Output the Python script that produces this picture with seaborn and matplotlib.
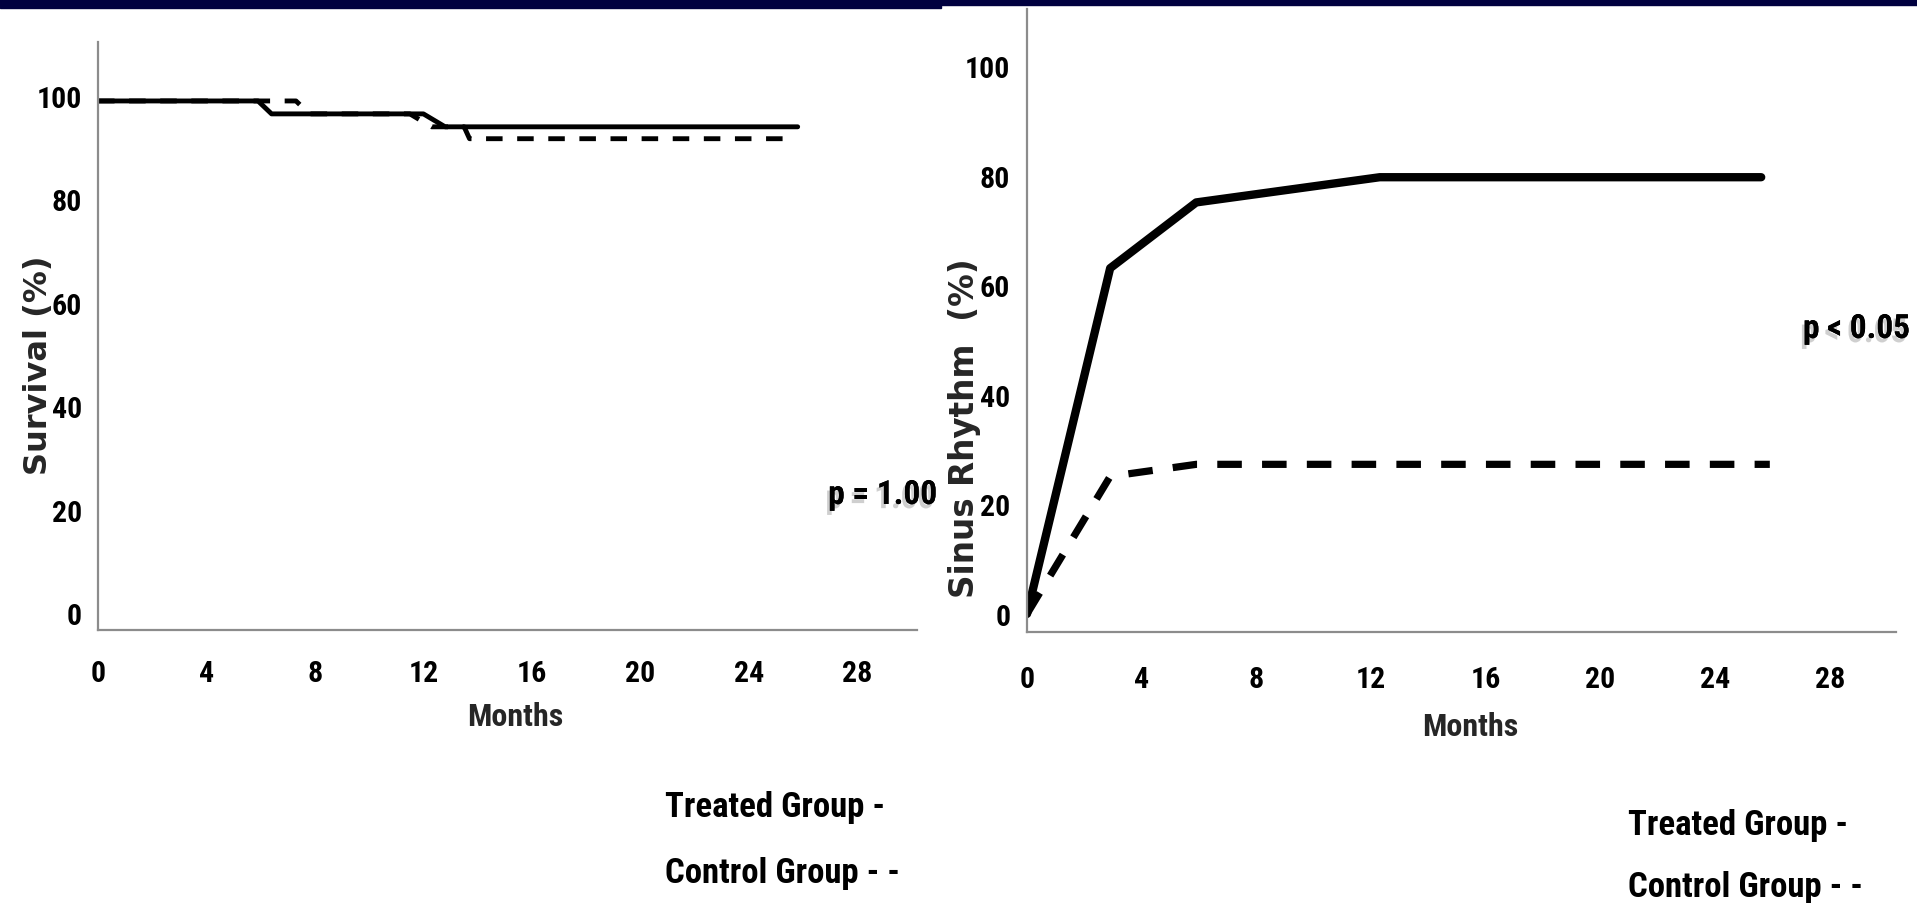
import matplotlib
matplotlib.use("Agg")
import matplotlib.pyplot as plt
import matplotlib.patheffects as pe
from matplotlib.patches import Rectangle
import seaborn as sns

# ── Data ───────────────────────────────────────────────────────
surv_months_treated = [0, 5.9, 6.4, 12.0, 12.8, 25.8]
surv_treated = [99, 99, 96.5, 96.5, 94, 94]
surv_months_control = [0, 7.3, 7.8, 11.5, 12.3, 13.5, 13.7, 25.3]
surv_control = [99, 99, 96.5, 96.5, 94, 94, 91.7, 91.7]

sr_months_treated = [0, 2.9, 5.9, 12.3, 25.6]
sr_treated = [0, 63.1, 75.1, 79.7, 79.7]
sr_months_control = [0, 2.9, 5.9, 25.9]
sr_control = [0, 25.1, 27.3, 27.3]

x_ticks = [0, 4, 8, 12, 16, 20, 24, 28]
y_ticks = [0, 20, 40, 60, 80, 100]
legend_lines = ["Treated Group -", "Control Group - -"]

# ── Style ──────────────────────────────────────────────────────
sns.set_theme(style="white")
NARROW = ["Roboto Condensed", "Open Sans Condensed", "DejaVu Sans"]
plt.rcParams["font.family"] = NARROW
plt.rcParams["font.weight"] = "bold"
plt.rcParams["axes.labelweight"] = "bold"
plt.rcParams["text.color"] = "black"
plt.rcParams["xtick.color"] = "black"
plt.rcParams["ytick.color"] = "black"

NAVY = "#00003f"
SPINE = "#8c8c8c"
TICK_SIZE = 21.5

fig = plt.figure(figsize=(19.17, 9.04), dpi=100)

# top banner
fig.patches.append(Rectangle((0, 1 - 9 / 904), 941 / 1917, 9 / 904,
                             transform=fig.transFigure, color=NAVY, zorder=5))
fig.patches.append(Rectangle((941 / 1917, 1 - 6 / 904), 1 - 941 / 1917, 6 / 904,
                             transform=fig.transFigure, color=NAVY, zorder=5))

ax1 = fig.add_axes([98 / 1917, 1 - 631 / 904, 819 / 1917, 588 / 904])
ax2 = fig.add_axes([1027 / 1917, 1 - 633 / 904, 869 / 1917, 623 / 904])


def style_axes(ax, xmax, xpad, ypad):
    ax.set_xlim(0, xmax)
    ax.set_ylim(-3.3, 110.4)
    ax.set_xticks(x_ticks)
    ax.set_yticks(y_ticks)
    ax.tick_params(axis="both", length=0, labelsize=TICK_SIZE)
    ax.tick_params(axis="x", pad=xpad)
    ax.tick_params(axis="y", pad=ypad)
    sns.despine(ax=ax)
    for side in ("left", "bottom"):
        ax.spines[side].set_color(SPINE)
        ax.spines[side].set_linewidth(1.6)
    ax.set_facecolor("white")


# ── Survival ───────────────────────────────────────────────────
sns.lineplot(x=surv_months_control, y=surv_control, ax=ax1, color="black",
             lw=3.5, linestyle=(0, (3.4, 3.0)), sort=False, estimator=None)
sns.lineplot(x=surv_months_treated, y=surv_treated, ax=ax1, color="black",
             lw=3.5, sort=False, estimator=None)
style_axes(ax1, 30.2, 21, 11.5)
ax1.set_xlabel("Months", fontsize=23)
ax1.xaxis.set_label_coords(0.51, -0.146)
ax1.xaxis.label.set_va("center")
ax1.set_ylabel("Survival (%)", fontsize=23, family="DejaVu Sans", fontweight="bold")
ax1.yaxis.set_label_coords(-0.073, 0.452)
ax1.yaxis.label.set_va("center")

# ── Sinus rhythm ───────────────────────────────────────────────
sns.lineplot(x=sr_months_control, y=sr_control, ax=ax2, color="black",
             lw=5.2, linestyle=(0, (3.4, 2.8)), sort=False, estimator=None)
sns.lineplot(x=sr_months_treated, y=sr_treated, ax=ax2, color="black",
             lw=6, sort=False, estimator=None)
style_axes(ax2, 30.3, 24, 12)
ax2.set_xlabel("Months", fontsize=23)
ax2.xaxis.set_label_coords(0.51, -0.151)
ax2.xaxis.label.set_va("center")
ax2.set_ylabel("Sinus Rhythm  (%)", fontsize=23.5, family="DejaVu Sans", fontweight="bold")
ax2.yaxis.set_label_coords(-0.072, 0.329)
ax2.yaxis.label.set_va("center")

# ── p values ───────────────────────────────────────────────────
shadow = [pe.withSimplePatchShadow(offset=(-2, -3), shadow_rgbFace="#777777", alpha=0.35),
          pe.Normal()]
fig.text(883 / 1917, 1 - 496 / 904, "p = 1.00", fontsize=24, ha="center", va="center",
         path_effects=shadow)
fig.text(1803 / 1917, 1 - 330 / 904, "p < 0.05", fontsize=24, ha="left", va="center",
         path_effects=shadow)

# ── group key text ─────────────────────────────────────────────
for x0, ys in [(665, (817, 883)), (1628, (835, 897))]:
    for txt, yb in zip(legend_lines, ys):
        fig.text(x0 / 1917, 1 - yb / 904, txt, fontsize=25, ha="left", va="baseline")

fig.savefig("out.png", dpi=100, facecolor="white")
